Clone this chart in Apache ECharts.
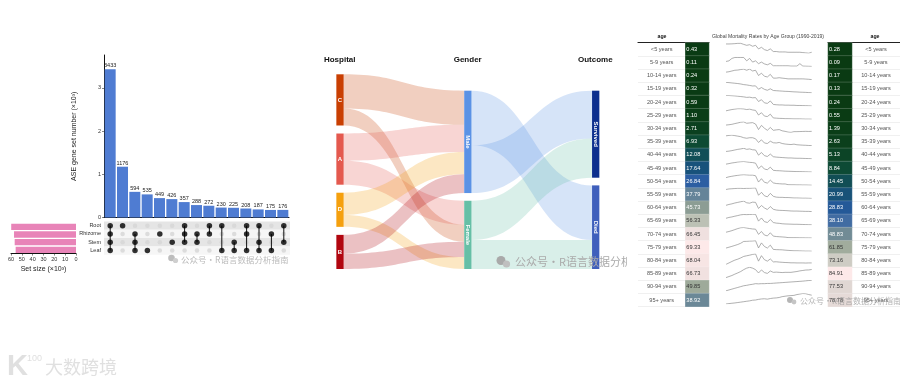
<!DOCTYPE html>
<html><head><meta charset="utf-8">
<style>html,body{margin:0;padding:0;background:#fff}#c{width:900px;height:383px}</style>
<script src="https://cdn.jsdelivr.net/npm/echarts@6/dist/echarts.min.js"></script>
</head><body><div id="c"></div>
<script>
// ---------- UpSet data ----------
const intersectionSizes = [3433,1176,594,535,449,426,357,288,272,230,225,208,187,175,176];
const intersectionTicks = [0,1000,2000,3000];
const setNames = ['Root','Rhizome','Stem','Leaf'];
const setSizes = [59.8,57.2,56.6,55.7];
const memberRoot    = [1,1,0,0,0,0,1,0,1,1,0,1,1,0,1];
const memberRhizome = [1,0,1,0,1,0,1,1,1,0,0,1,0,1,0];
const memberStem    = [1,0,1,0,0,1,1,1,0,0,1,0,1,0,1];
const memberLeaf    = [1,0,1,1,0,0,0,0,0,1,1,1,1,1,0];
const setSizeTicks = [0,10,20,30,40,50,60];

// ---------- Sankey data ----------
const hospitalNodes = ['C','A','D','B'];
const genderNodes = ['Male','Female'];
const outcomeNodes = ['Survived','Died'];
const stageHeaders = ['Hospital','Gender','Outcome'];
const hospitalGender = [['C','Male',20],['C','Female',10],['A','Male',16],['A','Female',14],['D','Male',13],['D','Female',7],['B','Male',11],['B','Female',9]];
const genderOutcome = [['Male','Died',32],['Male','Survived',28],['Female','Survived',23],['Female','Died',17]];
const maleIncomingOrder = ['C','A','D','B'];
const femaleIncomingOrder = ['A','C','B','D'];
const survivedIncomingOrder = ['Male','Female'];
const diedIncomingOrder = ['Male','Female'];

// ---------- Mortality table data ----------
const ageGroups = ['<5 years','5-9 years','10-14 years','15-19 years','20-24 years','25-29 years','30-34 years','35-39 years','40-44 years','45-49 years','50-54 years','55-59 years','60-64 years','65-69 years','70-74 years','75-79 years','80-84 years','85-89 years','90-94 years','95+ years'];
const rate1990 = [0.43,0.11,0.24,0.32,0.59,1.10,2.71,6.93,12.08,17.64,26.84,37.79,45.73,56.33,66.45,69.33,68.04,66.73,49.85,38.92];
const rate2019 = [0.28,0.09,0.17,0.13,0.24,0.55,1.39,2.63,5.13,8.84,14.45,20.99,28.83,38.10,48.83,61.85,73.16,84.91,77.53,78.78];
// Sparkline traces 1990-2019, read as relative height within each row (0 = row low, 100 = row high)
const spark00 = [88,88,89,91,94,94,84,75,81,66,75,41,56,34,25,41,16,16,12,12,12,9,9,9,9,9,6,3,0,9];
const spark01 = [47,53,76,85,85,85,85,53,76,41,53,26,41,24,15,29,6,6,6,6,6,6,3,3,3,26,3,2,1,0];
const spark02 = [71,75,82,89,91,96,100,89,100,82,89,39,61,32,25,50,14,14,18,14,11,7,7,7,7,7,7,5,3,0];
const spark03 = [100,97,94,91,88,84,78,75,70,65,66,34,50,33,24,38,22,20,18,16,14,13,11,9,8,6,5,4,2,0];
const spark04 = [100,100,98,96,93,90,87,82,84,78,80,43,60,30,25,48,15,12,10,10,8,8,7,7,5,5,4,3,2,0];
const spark05 = [80,86,92,96,100,100,98,92,96,88,84,40,62,30,25,48,12,10,8,7,5,5,4,3,3,3,2,1,1,0];
const spark06 = [70,73,77,84,90,97,100,87,90,93,80,27,67,40,20,47,20,24,27,15,10,3,0,7,7,8,9,10,9,10];
const spark07 = [93,97,100,95,90,85,75,70,75,75,65,30,55,25,20,42,27,25,30,20,15,12,10,14,8,6,4,3,1,0];
const spark08 = [70,73,78,84,90,94,100,90,94,86,84,35,60,30,22,45,20,16,14,12,10,8,8,6,5,5,4,3,2,0];
const spark09 = [75,80,86,90,95,98,100,96,92,90,84,32,58,28,22,46,16,13,12,10,8,7,6,5,4,4,3,2,1,0];
const spark10 = [72,80,85,90,94,98,100,98,96,96,90,30,62,28,20,48,22,16,14,12,12,5,4,4,3,3,2,2,1,0];
const spark11 = [85,90,92,94,96,96,94,96,96,98,100,30,58,25,15,48,20,12,10,10,8,8,6,4,4,3,2,2,1,0];
const spark12 = [60,68,74,82,88,94,100,84,80,90,88,30,58,35,20,48,22,15,12,11,10,8,6,5,5,4,3,2,2,0];
const spark13 = [62,70,75,82,88,95,98,97,98,100,100,35,65,30,22,50,22,16,14,10,8,7,6,5,5,4,3,2,1,0];
const spark14 = [55,62,70,80,90,98,100,95,90,86,84,35,62,28,20,50,18,14,12,10,8,4,3,3,3,2,2,1,1,0];
const spark15 = [30,38,46,55,64,76,93,94,96,97,100,31,79,45,30,58,17,15,14,13,10,8,6,4,4,3,2,1,1,0];
const spark16 = [0,14,28,41,50,62,76,82,88,95,100,31,83,45,31,52,24,25,22,20,18,17,15,15,14,14,14,13,14,14];
const spark17 = [0,10,20,33,45,58,76,90,98,90,76,44,73,48,40,63,50,52,50,48,50,50,50,54,58,64,68,72,73,77];
const spark18 = [0,8,16,24,32,40,48,52,58,62,68,66,68,68,70,70,72,74,76,78,80,82,84,86,88,90,92,95,98,100];
const spark19 = [0,4,7,10,14,18,22,26,30,36,38,44,48,50,46,52,56,58,62,70,74,78,80,82,90,95,100,98,90,84];
const sparkRows = [spark00,spark01,spark02,spark03,spark04,spark05,spark06,spark07,spark08,spark09,spark10,spark11,spark12,spark13,spark14,spark15,spark16,spark17,spark18,spark19];
const sparkYears = ['1990','1991','1992','1993','1994','1995','1996','1997','1998','1999','2000','2001','2002','2003','2004','2005','2006','2007','2008','2009','2010','2011','2012','2013','2014','2015','2016','2017','2018','2019'];

// ---------- Presentation ----------
const FONT = '"Liberation Sans", Arial, sans-serif';
const CJK = '"Noto Sans CJK SC", sans-serif';
const nodeColor = {C:'#C93F02',A:'#E4594E',D:'#F5A00E',B:'#B1060F',Male:'#5B92E5',Female:'#66BFA6',Survived:'#0D2F8E',Died:'#3F5FBC'};
const heatColors = ['#0A3A12','#0D4A33','#134F63','#1D5590','#2E5FA5','#547A9E','#7A9192','#98A595','#B8BEB1','#DCD4D0','#FDE9E9'];

const grid=[], xAxis=[], yAxis=[], series=[], visualMap=[];
function addGrid(g,x,y){ grid.push(g); const i=grid.length-1; xAxis.push(Object.assign({gridIndex:i},x)); yAxis.push(Object.assign({gridIndex:i},y)); return i; }
const axisText={color:'#333',fontSize:5.5,fontFamily:FONT};
const blackLine={show:true,onZero:false,lineStyle:{color:'#111',width:1}};

// UpSet bars
let g=addGrid({left:104,top:55,width:185,height:162.5},
 {type:'category',data:intersectionSizes.map((_,i)=>String(i+1)),axisLine:blackLine,axisTick:{show:false},axisLabel:{show:false}},
 {type:'value',min:0,max:3762,axisLine:blackLine,axisTick:{show:true,length:2,customValues:intersectionTicks,lineStyle:{color:'#333',width:.6}},splitLine:{show:false},
  axisLabel:Object.assign({margin:3,customValues:intersectionTicks,formatter:v=>String(v/1000)},axisText),
  name:'ASE gene set number (×10³)',nameLocation:'middle',nameGap:26,nameTextStyle:{fontSize:7,color:'#222',fontFamily:FONT}});
series.push({type:'bar',xAxisIndex:g,yAxisIndex:g,data:intersectionSizes,barWidth:11,itemStyle:{color:'#4F7CD2'},
 label:{show:true,position:'top',distance:0.5,fontSize:5.5,color:'#222',fontFamily:FONT}});

// UpSet matrix
const membership=[memberRoot,memberRhizome,memberStem,memberLeaf];
g=addGrid({left:104,top:221.5,width:186,height:33.2},
 {type:'category',data:intersectionSizes.map((_,i)=>String(i+1)),axisLine:{show:false},axisTick:{show:false},axisLabel:{show:false}},
 {type:'category',inverse:true,data:setNames,axisLine:{show:false},axisTick:{show:false},axisLabel:Object.assign({margin:3,interval:0},axisText),
  splitArea:{show:true,interval:0,areaStyle:{color:['#E5E5E5','#F6F6F6']}}});
const activePts=[],inactivePts=[];
membership.forEach((row,r)=>row.forEach((m,c)=>(m?activePts:inactivePts).push([c,r])));
series.push({type:'scatter',xAxisIndex:g,yAxisIndex:g,data:inactivePts,symbolSize:4.5,itemStyle:{color:'#D6D6D6'},z:2});
intersectionSizes.forEach((_,c)=>{
 const rows=membership.map((row,r)=>row[c]?r:-1).filter(r=>r>=0);
 if(rows.length>1) series.push({type:'line',xAxisIndex:g,yAxisIndex:g,data:[[c,rows[0]],[c,rows[rows.length-1]]],showSymbol:false,lineStyle:{color:'#111',width:1},z:3});
});
series.push({type:'scatter',xAxisIndex:g,yAxisIndex:g,data:activePts,symbolSize:5.5,itemStyle:{color:'#000'},z:4});

// Set size bars
g=addGrid({left:11,top:223,width:65,height:30.6},
 {type:'value',inverse:true,min:0,max:60,interval:10,axisLine:blackLine,axisTick:{show:true,length:2,lineStyle:{color:'#333',width:.6}},splitLine:{show:false},
  axisLabel:Object.assign({margin:2.5,customValues:setSizeTicks},axisText),
  name:'Set size (×10³)',nameLocation:'middle',nameGap:11.5,nameTextStyle:{fontSize:7,color:'#222',fontFamily:FONT}},
 {type:'category',inverse:true,data:setNames,axisLine:{show:false},axisTick:{show:false},axisLabel:{show:false}});
series.push({type:'bar',xAxisIndex:g,yAxisIndex:g,data:setSizes,barWidth:6.3,itemStyle:{color:'#E884B8'}});

// Sankey drawn through a cartesian grid: x = stage, y = stacked share of patients
const GAP_A=4.7, GAP_B=4.5, TOP_B=9.6, SANKEY_MAX=114.1, NODE_W=7.3;
function sum(links,name,idx){return links.filter(l=>l[idx]===name).reduce((a,l)=>a+l[2],0);}
const nodeTop={}, nodeVal={}, nodeStage={};
function stack(names,start,gap,getVal,stage){let y=start;names.forEach(n=>{nodeTop[n]=y;nodeVal[n]=getVal(n);nodeStage[n]=stage;y+=nodeVal[n]+gap;});}
stack(hospitalNodes,0,GAP_A,n=>sum(hospitalGender,n,0),0);
stack(genderNodes,TOP_B,GAP_B,n=>sum(hospitalGender,n,1),1);
stack(outcomeNodes,TOP_B,GAP_B,n=>sum(genderOutcome,n,1),2);
const inOrder={Male:maleIncomingOrder,Female:femaleIncomingOrder,Survived:survivedIncomingOrder,Died:diedIncomingOrder};
const linkData=[];
[hospitalGender,genderOutcome].forEach(links=>{
 const outOff={};
 links.forEach(l=>{
  const s=l[0],t=l[1],v=l[2];
  outOff[s]=outOff[s]||0;
  let inOff=0;
  for(const o of inOrder[t]){ if(o===s)break; inOff+=links.find(k=>k[0]===o&&k[1]===t)[2]; }
  linkData.push({value:[nodeStage[s],nodeTop[s]+outOff[s],nodeStage[t],nodeTop[t]+inOff,v],itemStyle:{color:nodeColor[s]}});
  outOff[s]+=v;
 });
});
g=addGrid({left:340,top:74.3,width:255.7,height:194.7},
 {type:'value',min:0,max:2,show:false,splitLine:{show:false}},
 {type:'value',inverse:true,min:0,max:SANKEY_MAX,show:false,splitLine:{show:false}});
series.push({type:'custom',xAxisIndex:g,yAxisIndex:g,clip:false,encode:{x:[0,2],y:[1,3]},data:linkData,z:2,
 renderItem(p,api){
  const a=api.coord([api.value(0),api.value(1)]), b=api.coord([api.value(2),api.value(3)]);
  const h=api.size([0,api.value(4)])[1];
  const x0=a[0]+NODE_W/2, x1=b[0]-NODE_W/2, m=(x0+x1)/2;
  return {type:'path',shape:{pathData:`M${x0} ${a[1]}C${m} ${a[1]} ${m} ${b[1]} ${x1} ${b[1]}L${x1} ${b[1]+h}C${m} ${b[1]+h} ${m} ${a[1]+h} ${x0} ${a[1]+h}Z`},
   style:{fill:api.visual('color'),opacity:.25}};
 }});
const nodeData=Object.keys(nodeTop).map(n=>({name:n,value:[nodeStage[n],nodeTop[n],nodeVal[n]],itemStyle:{color:nodeColor[n]}}));
series.push({type:'custom',xAxisIndex:g,yAxisIndex:g,clip:false,encode:{x:0,y:1},data:nodeData,z:3,
 renderItem(p,api){
  const a=api.coord([api.value(0),api.value(1)]), h=api.size([0,api.value(2)])[1];
  const name=nodeData[p.dataIndex].name, vert=name.length>1;
  return {type:'group',children:[
   {type:'rect',shape:{x:a[0]-NODE_W/2,y:a[1],width:NODE_W,height:h},style:{fill:api.visual('color')}},
   {type:'text',x:a[0],y:a[1]+h/2,rotation:vert?-Math.PI/2:0,style:{text:name,fill:'#fff',align:'center',verticalAlign:'middle',font:'bold 6px '+FONT}}
  ]};
 }});

// Mortality table – left and right heat columns with age labels
function tableGrid(left,width,cats,col,values,labelPos){
 const gi=addGrid({left:left,top:42.7,width:width,height:264},
  {type:'category',position:'top',data:cats,axisLine:{show:true,lineStyle:{color:'#222',width:1.2}},axisTick:{show:false},axisLabel:{show:false}},
  {type:'category',position:labelPos,inverse:true,data:ageGroups,axisLine:{show:false},axisTick:{show:false},
   axisLabel:{inside:true,interval:0,margin:width/3,align:'center',fontSize:5.6,color:'#555',fontFamily:FONT},
   splitLine:{show:true,interval:0,lineStyle:{color:'#E6E6E6',width:.6}}});
 const top=Math.max(...values);
 series.push({type:'heatmap',xAxisIndex:gi,yAxisIndex:gi,z:2,
  data:values.map((v,i)=>({value:[col,i,v],label:{color:v/top>0.7?'#333':'#fff'}})),
  itemStyle:{borderColor:'rgba(255,255,255,.35)',borderWidth:.5},
  label:{show:true,position:'insideLeft',distance:1.5,fontSize:5.6,fontFamily:FONT,formatter:o=>o.value[2].toFixed(2)}});
 visualMap.push({show:false,type:'continuous',seriesIndex:series.length-1,dimension:2,min:0,max:top,inRange:{color:heatColors}});
}
tableGrid(638,71,['age','','1990'],2,rate1990,'left');
tableGrid(828,72,['2019','age',''],0,rate2019,'right');

// Sparklines
sparkRows.forEach((row,i)=>{
 const gi=addGrid({left:726,top:42.7+i*13.2,width:85.7,height:10.5},
  {type:'category',boundaryGap:false,data:sparkYears,show:false},
  {type:'value',min:0,max:100,show:false,splitLine:{show:false}});
 series.push({type:'line',xAxisIndex:gi,yAxisIndex:gi,data:row,showSymbol:false,lineStyle:{color:'#8E8E8E',width:.7}});
});

// Text and decoration
function txt(text,x,y,font,fill,align,z){return {type:'text',silent:true,z:z||10,x:x,y:y,style:{text:text,fill:fill,align:align||'center',verticalAlign:'middle',font:font}};}
function dot(cx,cy,r,fill,z){return {type:'circle',silent:true,z:z||10,shape:{cx:cx,cy:cy,r:r},style:{fill:fill}};}
const WM='公众号·R语言数据分析指南';
const graphicEls=[
 ...stageHeaders.map((h,i)=>txt(h,[339.7,467.7,595.3][i],60,'bold 8px '+FONT,'#111')),
 txt('age',662,37,'bold 5.2px '+FONT,'#111'),
 txt('age',875,37,'bold 5.2px '+FONT,'#111'),
 txt('Global Mortality Rates by Age Group (1990-2019)',768,37,'5.1px '+FONT,'#444'),
 dot(171.5,258,3.3,'#BDBDBD'),dot(175.5,260.5,2.6,'#CFCFCF'),
 txt(WM,181,259.5,'8.5px '+CJK,'#BBBBBB','left'),
 dot(501,260.5,4.5,'#A9A9A9'),dot(506.5,264,3.6,'#BFBFBF'),
 txt(WM.slice(0,11),515,262,'11px '+CJK,'#ABABAB','left'),
 {type:'rect',silent:true,z:11,shape:{x:627,y:250,width:10,height:24},style:{fill:'#fff'}},
 dot(790,300,3,'#B5B5B5',12),dot(794,302,2.4,'#C5C5C5',12),
 txt(WM,800,300.5,'8px '+CJK,'rgba(150,150,150,.75)','left',12),
 txt('K',7,367,'bold 29px '+FONT,'#E0E0E0','left'),
 txt('100',27,359,'9px '+FONT,'#E0E0E0','left'),
 txt('大数跨境',45,367,'18px '+CJK,'#E0E0E0','left')
];

const chart=echarts.init(document.getElementById('c'),null,{renderer:'canvas'});
chart.setOption({animation:false,backgroundColor:'#fff',textStyle:{fontFamily:FONT},grid,xAxis,yAxis,series,visualMap,graphic:{elements:graphicEls}});
</script></body></html>
